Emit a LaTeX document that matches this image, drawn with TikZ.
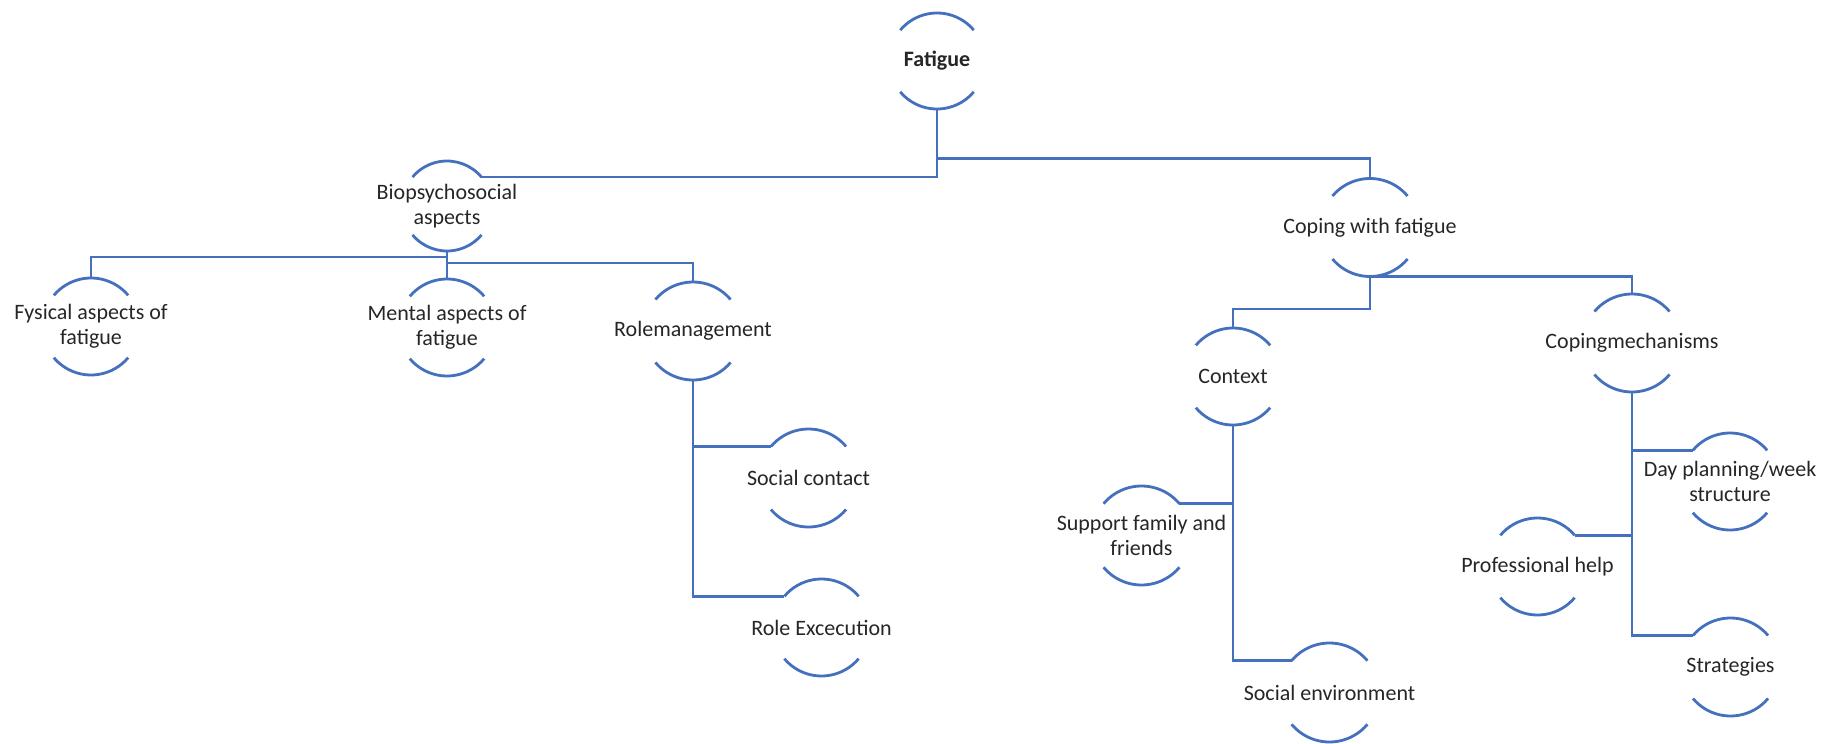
\documentclass[tikz,border=0pt]{standalone}
\usepackage{fontspec}
\setmainfont{Carlito}
\definecolor{lineblue}{HTML}{4470BE}
\definecolor{txt}{HTML}{262626}
\tikzset{
  lbl/.style={inner sep=0pt, align=center, text=txt, font=\fontsize{11}{12.5}\selectfont},
  arcline/.style={draw=lineblue, line width=1.4pt},
  conn/.style={draw=lineblue, line width=1.4pt},
}
% name, x, y, radius, half-angle offset, text
\newcommand\arcnode[6]{%
  \node[lbl] (#1) at (#2,-#3) {#6};
  \draw[arcline] ([shift={(#5:#4)}]#1.center) arc[start angle=#5, end angle={180-#5}, radius=#4];
  \draw[arcline] ([shift={(180+#5:#4)}]#1.center) arc[start angle={180+#5}, end angle={360-#5}, radius=#4];
  \coordinate (#1-t) at ([shift={(90:#4)}]#1.center);
  \coordinate (#1-b) at ([shift={(270:#4)}]#1.center);
  \coordinate (#1-tl) at ([shift={(180-#5:#4)}]#1.center);
  \coordinate (#1-tr) at ([shift={(#5:#4)}]#1.center);
}
\begin{document}
\begin{tikzpicture}[x=0.5pt, y=0.5pt]
\path[use as bounding box] (0,0) rectangle (1827,-744);

\arcnode{fat}{937}{61}{48}{40}{\textbf{Fatigue}}
\arcnode{bio}{447}{206}{45}{40}{Biopsychosocial\\aspects}
\arcnode{cop}{1370}{227.5}{49}{40}{Coping with fatigue}
\arcnode{fys}{91}{326.5}{48.5}{40}{Fysical aspects of\\fatigue}
\arcnode{men}{447}{327.5}{48.5}{40}{Mental aspects of\\fatigue}
\arcnode{rol}{693}{331}{49}{40}{Rolemanagement}
\arcnode{soc}{808.5}{478}{49}{40}{Social contact}
\arcnode{rex}{821.5}{627.5}{48.5}{40}{Role Excecution}
\arcnode{con}{1233}{376.5}{48.5}{40}{Context}
\arcnode{cm}{1632}{343}{49}{40}{Copingmechanisms}
\arcnode{sup}{1141.5}{535.5}{49.5}{40}{Support family and\\friends}
\arcnode{sen}{1329.5}{692.5}{49.5}{40}{Social environment}
\arcnode{day}{1730}{481.5}{48.5}{40}{Day planning/week\\structure}
\arcnode{pro}{1537.5}{566.5}{48.5}{40}{Professional help}
\arcnode{str}{1730.5}{667}{49}{40}{Strategies}

% connectors
\draw[conn] (fat-b) |- (bio-tr);
\draw[conn] (fat-b) |- ([yshift=10pt]cop-t) -- (cop-t);

\draw[conn] (bio-b) |- ([yshift=10.5pt]fys-t) -- (fys-t);
\draw[conn] (bio-b) -- (men-t);
\draw[conn] (bio-b) |- ([yshift=9.5pt]rol-t) -- (rol-t);

\draw[conn] (rol-b) |- (soc-tl);
\draw[conn] (rol-b) |- (rex-tl);

\draw[conn] (cop-b) |- ([yshift=9.5pt]con-t) -- (con-t);
\draw[conn] (cop-b) -| (cm-t);

\draw[conn] (con-b) |- (sup-tr);
\draw[conn] (con-b) |- (sen-tl);

\draw[conn] (cm-b) |- (day-tl);
\draw[conn] (cm-b) |- (pro-tr);
\draw[conn] (cm-b) |- (str-tl);
\end{tikzpicture}
\end{document}
